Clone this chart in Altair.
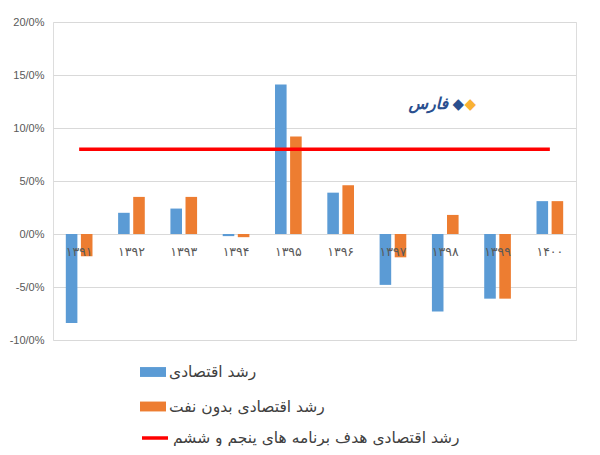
import altair as alt
import pandas as pd

years = ["۱۳۹۱", "۱۳۹۲", "۱۳۹۳", "۱۳۹۴", "۱۳۹۵", "۱۳۹۶", "۱۳۹۷", "۱۳۹۸", "۱۳۹۹", "۱۴۰۰"]
growth = [-8.4, 2.0, 2.4, -0.2, 14.1, 3.9, -4.8, -7.3, -6.1, 3.1]
growth_non_oil = [-2.1, 3.5, 3.5, -0.3, 9.2, 4.6, -2.2, 1.8, -6.1, 3.1]
target = [8.0, 8.0, 8.0, 8.0, 8.0, 8.0, 8.0, 8.0, 8.0, 8.0]
series_names = ["رشد اقتصادی", "رشد اقتصادی بدون نفت", "رشد اقتصادی هدف برنامه های پنجم و ششم"]
colors = ["#5B9BD5", "#ED7D31", "#FF0000"]
y_ticks = [-10, -5, 0, 5, 10, 15, 20]

bars_df = pd.DataFrame(
    [{"year": y, "series": series_names[0], "value": v} for y, v in zip(years, growth)]
    + [{"year": y, "series": series_names[1], "value": v} for y, v in zip(years, growth_non_oil)]
)
line_df = pd.DataFrame([{"year": y, "series": series_names[2], "value": v} for y, v in zip(years, target)])
labels_df = pd.DataFrame({"year": years})

rect_path = "M-1,-0.38L1,-0.38L1,0.38L-1,0.38Z"

common_legend = dict(
    title=None,
    orient="none",
    direction="vertical",
    padding=0,
    symbolSize=676,
    rowPadding=12.5,
    labelFont="DejaVu Sans",
    labelFontSize=15.5,
    labelColor="#404040",
    labelOffset=3,
    labelLimit=0,
)

bar_legend = alt.Legend(legendX=87, legendY=337, symbolType=rect_path,
                        symbolStrokeWidth=0, **common_legend)
line_legend = alt.Legend(legendX=87, legendY=401, symbolType="stroke",
                         symbolStrokeWidth=3.5, **common_legend)

x_enc = alt.X("year:N", sort=years, axis=None,
              scale=alt.Scale(paddingInner=0.49, paddingOuter=0.245))
y_scale = alt.Scale(domain=[-10, 20], nice=False, zero=False)
y_axis = alt.Axis(
    values=y_ticks,
    grid=True,
    gridColor="#d9d9d9",
    gridWidth=1,
    domain=False,
    ticks=False,
    labelPadding=9,
    labelFont="Liberation Sans",
    labelFontSize=11,
    labelColor="#595959",
    labelExpr="(datum.value < 0 ? '-' : '') + abs(datum.value) + '/0%'",
    title=None,
)

bars = alt.Chart(bars_df).mark_bar().encode(
    x=x_enc,
    xOffset=alt.XOffset("series:N", sort=series_names[:2],
                        scale=alt.Scale(paddingInner=0.233, paddingOuter=0)),
    y=alt.Y("value:Q", scale=y_scale, axis=y_axis),
    color=alt.Color("series:N", scale=alt.Scale(domain=series_names[:2], range=colors[:2]),
                    legend=bar_legend),
)

year_labels = alt.Chart(labels_df).mark_text(
    font="DejaVu Sans", fontSize=12.5, color="#595959", dy=18, baseline="middle"
).encode(
    x=x_enc,
    y=alt.datum(0, scale=y_scale, axis=y_axis),
    text="year:N",
)

line = alt.Chart(line_df).mark_line(strokeWidth=3.5).encode(
    x=x_enc,
    y=alt.Y("value:Q", scale=y_scale, axis=y_axis),
    stroke=alt.Stroke("series:N", scale=alt.Scale(domain=series_names[2:], range=colors[2:]),
                      legend=line_legend),
)

logo_text = alt.Chart(pd.DataFrame({"t": ["فارس"]})).mark_text(
    font="DejaVu Sans", fontSize=16, fontWeight="bold", fontStyle="italic", color="#2a4f8f",
    align="right", baseline="middle", dx=3
).encode(x=alt.datum(years[7]), y=alt.datum(12.3), text="t:N")
logo_d1 = alt.Chart(pd.DataFrame({"t": ["◆"]})).mark_text(
    font="DejaVu Sans", fontSize=15, color="#2a4f8f", align="center", baseline="middle", dx=13
).encode(x=alt.datum(years[7]), y=alt.datum(12.3), text="t:N")
logo_d2 = alt.Chart(pd.DataFrame({"t": ["◆"]})).mark_text(
    font="DejaVu Sans", fontSize=15, color="#f9b233", align="center", baseline="middle", dx=25
).encode(x=alt.datum(years[7]), y=alt.datum(12.3), text="t:N")

chart = alt.layer(bars, year_labels, line, logo_text, logo_d1, logo_d2).resolve_scale(
    color="independent"
).properties(
    width=523,
    height=318,
    autosize=alt.AutoSizeParams(type="none"),
    padding={"left": 45, "top": 14, "right": 12, "bottom": 106},
).configure_view(stroke=None).configure(background="white")

chart.save("out.html", embed_options={"renderer": "svg", "actions": False})
